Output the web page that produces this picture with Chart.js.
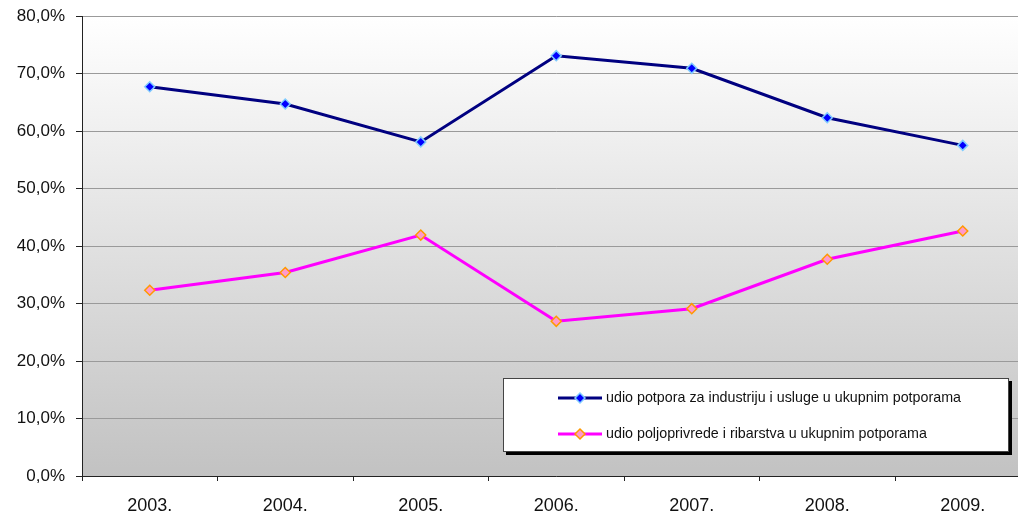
<!DOCTYPE html>
<html>
<head>
<meta charset="utf-8">
<script src="https://cdn.jsdelivr.net/npm/chart.js@4"></script>
<style>
    html, body { margin: 0; padding: 0; background: #ffffff; overflow: hidden; }
    #wrap { width: 1037px; height: 524px; }
</style>
</head>
<body>
<div id="wrap"><canvas id="chart" width="1037" height="524"></canvas></div>
<script>
// Chart data
const years = ['2003.', '2004.', '2005.', '2006.', '2007.', '2008.', '2009.'];
const industrijaUsluge = [67.7, 64.7, 58.1, 73.1, 70.9, 62.3, 57.5];
const poljoprivredaRibarstvo = [32.3, 35.4, 41.9, 26.9, 29.1, 37.7, 42.6];
const seriesLabels = [
    'udio potpora za industriju i usluge u ukupnim potporama',
    'udio poljoprivrede i ribarstva u ukupnim potporama'
];
const yMin = 0;
const yMax = 80;
const yStep = 10;

// Gradient fill behind the plot area
const plotBackground = {
    id: 'plotBackground',
    beforeDraw(chart) {
        const { ctx, chartArea } = chart;
        const grad = ctx.createLinearGradient(0, chartArea.top, 0, chartArea.bottom);
        grad.addColorStop(0, '#ffffff');
        grad.addColorStop(1, '#c2c2c2');
        ctx.save();
        ctx.fillStyle = grad;
        ctx.fillRect(chartArea.left, chartArea.top, chartArea.right - chartArea.left, chartArea.bottom - chartArea.top);
        ctx.restore();
    }
};

// Boxed legend sitting inside the plot, bottom right
const boxLegend = {
    id: 'boxLegend',
    afterDraw(chart) {
        const ctx = chart.ctx;
        const box = { x: 503, y: 378, w: 506, h: 74 };
        ctx.save();
        ctx.fillStyle = '#000000';
        ctx.fillRect(box.x + 3, box.y + 3, box.w, box.h);
        ctx.fillStyle = '#ffffff';
        ctx.fillRect(box.x, box.y, box.w, box.h);
        ctx.strokeStyle = '#444444';
        ctx.lineWidth = 1;
        ctx.strokeRect(box.x + 0.5, box.y + 0.5, box.w - 1, box.h - 1);

        const rows = [398, 434];
        ctx.font = '15px "Liberation Sans Narrow", "Liberation Sans", Arial, sans-serif';
        const targetWidth = 355;
        const scaleX = targetWidth / ctx.measureText(chart.data.datasets[0].label).width;

        chart.data.datasets.forEach((ds, i) => {
            const y = rows[i];
            ctx.strokeStyle = ds.borderColor;
            ctx.lineWidth = 3;
            ctx.beginPath();
            ctx.moveTo(558, y);
            ctx.lineTo(602, y);
            ctx.stroke();

            // diamond marker
            const r = ds.pointRadius;
            ctx.beginPath();
            ctx.moveTo(580, y - r);
            ctx.lineTo(580 + r, y);
            ctx.lineTo(580, y + r);
            ctx.lineTo(580 - r, y);
            ctx.closePath();
            ctx.fillStyle = ds.pointBackgroundColor;
            ctx.fill();
            ctx.strokeStyle = ds.pointBorderColor;
            ctx.lineWidth = ds.pointBorderWidth;
            ctx.stroke();

            ctx.save();
            ctx.translate(606, y);
            ctx.scale(scaleX, 1);
            ctx.fillStyle = '#111111';
            ctx.textBaseline = 'middle';
            ctx.textAlign = 'left';
            ctx.fillText(ds.label, 0, 0);
            ctx.restore();
        });
        ctx.restore();
    }
};

const ctx = document.getElementById('chart').getContext('2d');

new Chart(ctx, {
    type: 'line',
    data: {
        labels: years,
        datasets: [{
            label: seriesLabels[0],
            data: industrijaUsluge,
            borderColor: '#000080',
            borderWidth: 3,
            pointStyle: 'rectRot',
            pointRadius: 5,
            pointBackgroundColor: '#0000ff',
            pointBorderColor: '#80ccff',
            pointBorderWidth: 1.5,
            tension: 0,
            fill: false
        }, {
            label: seriesLabels[1],
            data: poljoprivredaRibarstvo,
            borderColor: '#ff00ff',
            borderWidth: 3,
            pointStyle: 'rectRot',
            pointRadius: 5,
            pointBackgroundColor: '#ff99cc',
            pointBorderColor: '#ff9900',
            pointBorderWidth: 1.5,
            tension: 0,
            fill: false
        }]
    },
    options: {
        responsive: false,
        animation: false,
        layout: {
            padding: { top: 16, right: 2, bottom: 0, left: 0 }
        },
        plugins: {
            legend: { display: false },
            tooltip: { enabled: false }
        },
        scales: {
            x: {
                offset: true,
                grid: {
                    offset: true,
                    drawOnChartArea: false,
                    drawTicks: true,
                    tickLength: 5,
                    tickColor: '#222222'
                },
                border: { color: '#222222', width: 1 },
                ticks: {
                    color: '#111111',
                    padding: 14,
                    maxRotation: 0,
                    font: { family: '"Liberation Sans", Arial, sans-serif', size: 18 }
                },
                afterFit: function(scale) {
                    scale.height = 48;
                }
            },
            y: {
                min: yMin,
                max: yMax,
                grid: {
                    color: '#9a9a9a',
                    tickColor: '#222222',
                    tickLength: 6
                },
                border: { color: '#222222', width: 1 },
                ticks: {
                    stepSize: yStep,
                    color: '#111111',
                    padding: 11,
                    font: { family: '"Liberation Sans", Arial, sans-serif', size: 17 },
                    callback: function(value) {
                        return value.toFixed(1).replace('.', ',') + '%';
                    }
                },
                afterFit: function(scale) {
                    scale.width = 82;
                    scale.paddingTop = 0;
                    scale.paddingBottom = 0;
                }
            }
        }
    },
    plugins: [plotBackground, boxLegend]
});
</script>
</body>
</html>
